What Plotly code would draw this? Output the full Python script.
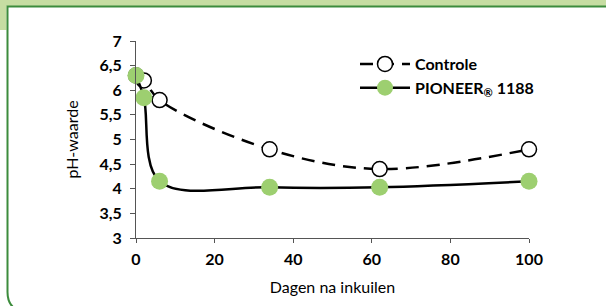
import plotly.graph_objects as go

# Data
days = [0, 2, 6, 34, 62, 100]
controle = [6.3, 6.2, 5.8, 4.8, 4.4, 4.8]
pioneer = [6.3, 5.85, 4.15, 4.03, 4.03, 4.15]

x_ticks = [0, 20, 40, 60, 80, 100]
y_ticks = [3, 3.5, 4, 4.5, 5, 5.5, 6, 6.5, 7]

W, H = 606, 306
L, R, T, B = 136, 77, 41, 68
PW, PH = W - L - R, H - T - B


def px(X):
    return (X - L) / PW


def py(Y):
    return (H - B - Y) / PH


FONT = "Lato"
LIGHT = "#c6dda2"
DARK = "#3c8c3c"
GREEN = "#9dcf70"

fig = go.Figure()
fig.add_trace(go.Scatter(
    x=days, y=controle, name="Controle", mode="lines+markers",
    line=dict(color="black", width=2.5, dash="13px,8px", shape="spline", smoothing=1),
    marker=dict(symbol="circle", size=15, color="white", line=dict(color="black", width=1.5)),
    cliponaxis=False,
))
fig.add_trace(go.Scatter(
    x=days, y=pioneer, name="PIONEER<sub>®</sub> 1188", mode="lines+markers",
    line=dict(color="black", width=2.5, shape="spline", smoothing=1),
    marker=dict(symbol="circle", size=17, color=GREEN, line=dict(width=0)),
    cliponaxis=False,
))

# decorative frame: light green banner and dark green rounded border
path = (f"M {px(606)},{py(6.5)} L {px(7.5)},{py(6.5)} L {px(7.5)},{py(292)} "
        f"Q {px(7.5)},{py(306)} {px(18)},{py(310)}")
fig.add_shape(type="rect", xref="paper", yref="paper", x0=px(0), x1=px(606), y0=py(0), y1=py(6),
              fillcolor=LIGHT, line=dict(width=0), layer="below")
fig.add_shape(type="rect", xref="paper", yref="paper", x0=px(0), x1=px(6.5), y0=py(0), y1=py(30),
              fillcolor=LIGHT, line=dict(width=0), layer="below")
fig.add_shape(type="path", xref="paper", yref="paper", path=path,
              line=dict(color=DARK, width=2), layer="below")

fig.update_layout(
    width=W, height=H,
    margin=dict(l=L, r=R, t=T, b=B),
    paper_bgcolor="white", plot_bgcolor="white",
    separators=",.",
    font=dict(family=FONT, color="black", size=16),
    showlegend=True,
    legend=dict(x=px(355), y=py(47), xanchor="left", yanchor="top",
                bgcolor="rgba(0,0,0,0)", font=dict(family=FONT, size=16, color="black", weight="bold"),
                itemwidth=50, tracegroupgap=0),
    xaxis=dict(range=[0, 100], tickvals=x_ticks, ticks="outside", ticklen=4, tickcolor="#555",
               showline=True, linecolor="#555", linewidth=1, showgrid=False, zeroline=False,
               ticklabelstandoff=3,
               tickfont=dict(family=FONT, size=16, weight="bold"),
               title=dict(text="Dagen na inkuilen", font=dict(family=FONT, size=16), standoff=14)),
    yaxis=dict(range=[3, 7], tickvals=y_ticks, ticks="outside", ticklen=5, tickcolor="#555",
               showline=True, linecolor="#555", linewidth=1, showgrid=False, zeroline=False,
               ticklabelstandoff=5,
               tickfont=dict(family=FONT, size=16, weight="bold"),
               title=dict(text="pH-waarde", font=dict(family=FONT, size=16), standoff=16)),
)

fig.write_html("out.html", config={"displayModeBar": False},
               post_script="document.body.style.margin='0';document.body.style.overflow='hidden';")
